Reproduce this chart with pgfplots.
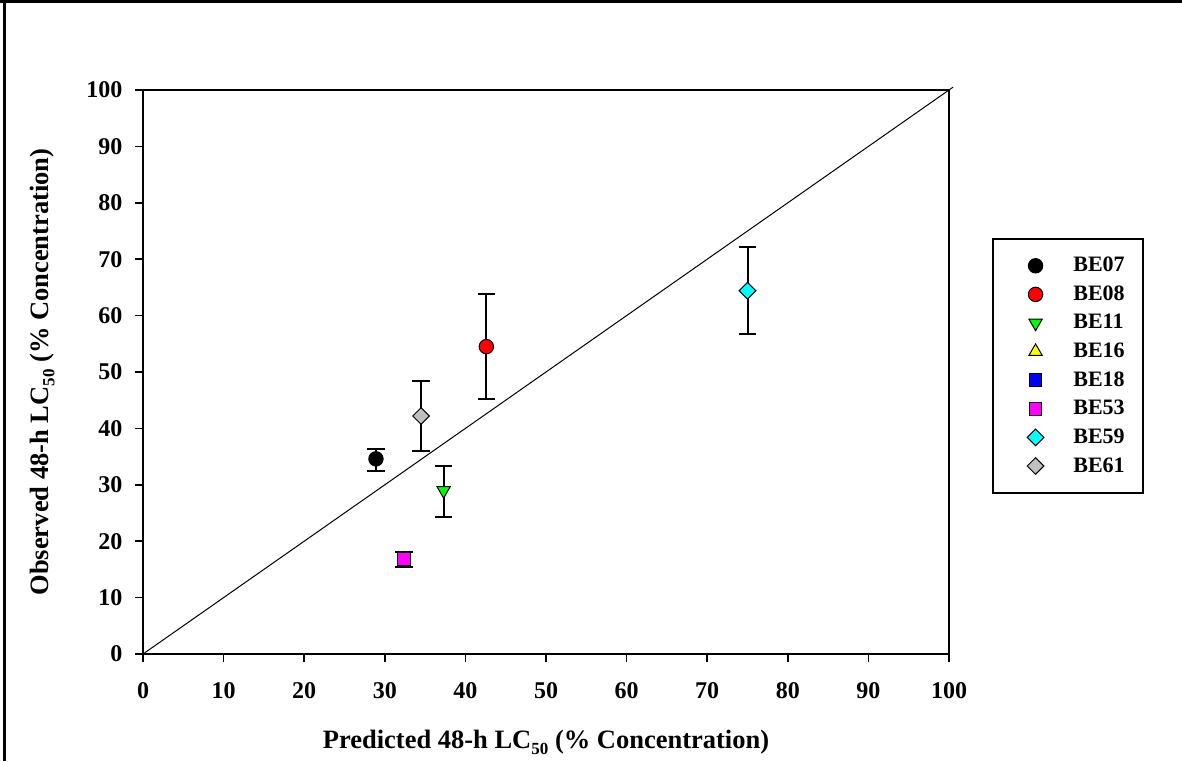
\documentclass[border=0pt]{standalone}
\usepackage{pgfplots}
\pgfplotsset{compat=1.18}
\usepackage{fontspec}
\setmainfont{Liberation Serif}
\definecolor{mgreen}{RGB}{0,255,0}
\definecolor{mgray}{RGB}{192,192,192}
\definecolor{mcyan}{RGB}{0,255,255}
\definecolor{mmagenta}{RGB}{255,0,255}
\definecolor{myellow}{RGB}{255,255,0}
\definecolor{mblue}{RGB}{0,0,255}
\definecolor{mred}{RGB}{255,0,0}
\pgfplotstableread{
x y ep em
28.9 34.6 1.8 2.1
}\tBEa
\pgfplotstableread{
x y ep em
42.6 54.5 9.3 9.2
}\tBEb
\pgfplotstableread{
x y ep em
37.3 29.0 4.4 4.7
}\tBEc
\pgfplotstableread{
x y ep em
32.4 16.8 1.3 1.3
}\tBEf
\pgfplotstableread{
x y ep em
75.0 64.4 7.7 7.6
}\tBEg
\pgfplotstableread{
x y ep em
34.5 42.2 6.2 6.2
}\tBEh
\begin{document}
\begin{tikzpicture}[x=1pt,y=1pt]
\useasboundingbox (0,0) rectangle (1182,761);
\draw[line width=3pt] (0,759.5) -- (1182,759.5);
\draw[line width=3pt] (4.5,0) -- (4.5,761);
\begin{axis}[
  at={(143pt,107pt)}, anchor=south west, scale only axis,
  width=806pt, height=564pt,
  xmin=0, xmax=100, ymin=0, ymax=100,
  xtick={0,10,...,100}, ytick={0,10,...,100},
  tick align=outside, xtick pos=bottom, ytick pos=left,
  major tick length=8pt,
  axis line style={line width=1.6pt},
  every tick/.style={line width=1.6pt, black},
  tick label style={font=\fontsize{24}{28}\selectfont\bfseries},
  /pgf/number format/assume math mode=true,
  xticklabel style={yshift=-17pt},
  yticklabel style={xshift=-9pt},
  xlabel={Predicted 48-h LC\raisebox{-6pt}{\fontsize{17}{17}\selectfont 50} (\% Concentration)},
  ylabel={Observed 48-h LC\raisebox{-6pt}{\fontsize{17}{17}\selectfont 50} (\% Concentration)},
  label style={font=\fontsize{26.5}{30}\selectfont\bfseries},
  xlabel style={at={(axis description cs:0.5,-0.1667)}, anchor=base},
  ylabel style={at={(axis description cs:-0.125,0.5)}, anchor=center},
  clip=false,
  error bars/y dir=both, error bars/y explicit,
  error bars/error bar style={line width=2pt, black},
  error bars/error mark options={line width=2pt, black, mark size=8.7pt, rotate=90},
  legend style={at={(axis description cs:1.0533,0.7376)}, anchor=north west,
    draw=black, line width=1.6pt, inner xsep=16pt, inner ysep=15pt,
    font=\fontsize{22}{26}\selectfont\bfseries, row sep=4.6pt, column sep=15pt,
    nodes={text height=16pt, text depth=4pt, inner sep=2pt}},
  legend cell align=left,
  legend image code/.code={\path (0pt,0pt) (46pt,0pt); \draw[#1, only marks] plot coordinates {(26pt,0pt)};},
]
\addplot[black, line width=1pt, forget plot, no marks] coordinates {(0,0) (100.5,100.5)};
\addplot[only marks, mark=*, mark size=7.2pt, mark options={fill=black, draw=black, line width=1pt}]
  table[x=x, y=y, y error plus=ep, y error minus=em] {\tBEa};
\addlegendentry{BE07}
\addplot[only marks, mark=*, mark size=7.2pt, mark options={fill=mred, draw=black, line width=1pt}]
  table[x=x, y=y, y error plus=ep, y error minus=em] {\tBEb};
\addlegendentry{BE08}
\addplot[only marks, mark=triangle*, mark size=7.7pt, mark options={rotate=180, fill=mgreen, draw=black, line width=1pt}]
  table[x=x, y=y, y error plus=ep, y error minus=em] {\tBEc};
\addlegendentry{BE11}
\addlegendimage{only marks, mark=triangle*, mark size=7.7pt, mark options={fill=myellow, draw=black, line width=1pt}}
\addlegendentry{BE16}
\addlegendimage{only marks, mark=square*, mark size=6.3pt, mark options={fill=mblue, draw=black, line width=1pt}}
\addlegendentry{BE18}
\addplot[only marks, mark=square*, mark size=6.3pt, mark options={fill=mmagenta, draw=black, line width=1pt}]
  table[x=x, y=y, y error plus=ep, y error minus=em] {\tBEf};
\addlegendentry{BE53}
\addplot[only marks, mark=square*, mark size=5.9pt, mark options={rotate=45, fill=mcyan, draw=black, line width=1pt}]
  table[x=x, y=y, y error plus=ep, y error minus=em] {\tBEg};
\addlegendentry{BE59}
\addplot[only marks, mark=square*, mark size=5.9pt, mark options={rotate=45, fill=mgray, draw=black, line width=1pt}]
  table[x=x, y=y, y error plus=ep, y error minus=em] {\tBEh};
\addlegendentry{BE61}
\end{axis}
\end{tikzpicture}
\end{document}
